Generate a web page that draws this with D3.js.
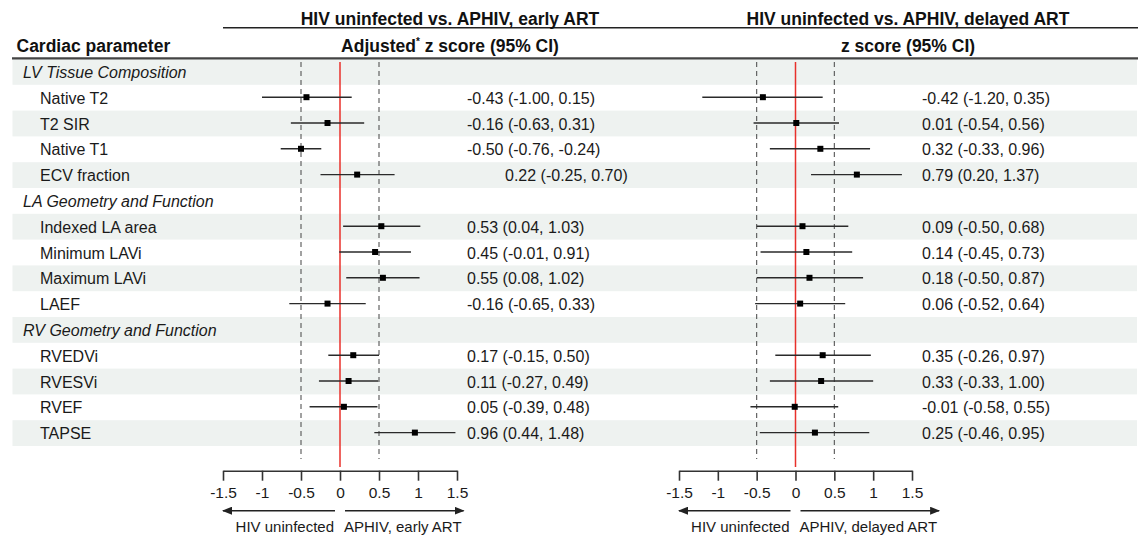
<!DOCTYPE html>
<html>
<head>
<meta charset="utf-8">
<script src="https://cdn.jsdelivr.net/npm/d3@7"></script>
<style>
  body { margin: 0; background: #fff; }
  svg { font-family: "Liberation Sans", Arial, sans-serif; }
</style>
</head>
<body>
<div id="chart"></div>
<script>
const width = 1146
const height = 537

// rows of the table, group headings have no estimate
const params = ["LV Tissue Composition", "Native T2", "T2 SIR", "Native T1", "ECV fraction",
  "LA Geometry and Function", "Indexed LA area", "Minimum LAVi", "Maximum LAVi", "LAEF",
  "RV Geometry and Function", "RVEDVi", "RVESVi", "RVEF", "TAPSE"]
const isGroup = [true, false, false, false, false, true, false, false, false, false, true, false, false, false, false]

// HIV uninfected vs APHIV, early ART (adjusted z score)
const earlyEst = [null, -0.43, -0.16, -0.50, 0.22, null, 0.53, 0.45, 0.55, -0.16, null, 0.17, 0.11, 0.05, 0.96]
const earlyLo  = [null, -1.00, -0.63, -0.76, -0.25, null, 0.04, -0.01, 0.08, -0.65, null, -0.15, -0.27, -0.39, 0.44]
const earlyHi  = [null, 0.15, 0.31, -0.24, 0.70, null, 1.03, 0.91, 1.02, 0.33, null, 0.50, 0.49, 0.48, 1.48]

// HIV uninfected vs APHIV, delayed ART (z score)
const delayedEst = [null, -0.42, 0.01, 0.32, 0.79, null, 0.09, 0.14, 0.18, 0.06, null, 0.35, 0.33, -0.01, 0.25]
const delayedLo  = [null, -1.20, -0.54, -0.33, 0.20, null, -0.50, -0.45, -0.50, -0.52, null, -0.26, -0.33, -0.58, -0.46]
const delayedHi  = [null, 0.35, 0.56, 0.96, 1.37, null, 0.68, 0.73, 0.87, 0.64, null, 0.97, 1.00, 0.55, 0.95]

const tickValues = [-1.5, -1, -0.5, 0, 0.5, 1, 1.5]

const svg = d3.select("#chart").append("svg")
    .attr("width", width)
    .attr("height", height)

const defs = svg.append("defs")
defs.append("marker")
    .attr("id", "arrow")
    .attr("viewBox", "0 0 10 8")
    .attr("refX", 9)
    .attr("refY", 4)
    .attr("markerUnits", "userSpaceOnUse")
    .attr("markerWidth", 10)
    .attr("markerHeight", 8)
    .attr("orient", "auto")
  .append("path")
    .attr("d", "M0,0 L10,4 L0,8 z")
    .attr("fill", "#222")

const y = d3.scaleBand().domain(d3.range(params.length)).range([59, 446])
const mid = i => y(i) + y.bandwidth() / 2
const fmt = v => v.toFixed(2)

// row shading
svg.append("g").selectAll("rect")
  .data(params.map((p, i) => i).filter(i => i % 2 === 0))
  .join("rect")
    .attr("x", 12.5)
    .attr("width", 1137 - 12.5)
    .attr("y", i => y(i))
    .attr("height", y.bandwidth())
    .attr("fill", "#eef2f0")

// header
svg.append("line").attr("x1", 223).attr("x2", 1138).attr("y1", 27.7).attr("y2", 27.7)
    .attr("stroke", "#222").attr("stroke-width", 1.6)
svg.append("line").attr("x1", 12).attr("x2", 1138).attr("y1", 58.3).attr("y2", 58.3)
    .attr("stroke", "#444").attr("stroke-width", 2.2)

svg.append("text")
    .attr("x", 16.5).attr("y", 52)
    .attr("font-size", 17.5).attr("font-weight", "bold").attr("fill", "#111")
    .text("Cardiac parameter")

// parameter labels
svg.append("g").selectAll("text")
  .data(params)
  .join("text")
    .attr("x", (d, i) => isGroup[i] ? 23 : 40)
    .attr("y", (d, i) => mid(i) + 6)
    .attr("font-size", 16)
    .attr("font-style", (d, i) => isGroup[i] ? "italic" : "normal")
    .attr("fill", "#1a1a1a")
    .text(d => d)

const panels = [
  { x: d3.scaleLinear().domain([-1.5, 1.5]).range([223, 457]),
    est: earlyEst, lo: earlyLo, hi: earlyHi, textX: 467, center: 450,
    title: "HIV uninfected vs. APHIV, early ART", sub: ["Adjusted", "*", " z score (95% CI)"],
    right: "APHIV, early ART" },
  { x: d3.scaleLinear().domain([-1.5, 1.5]).range([679, 912]),
    est: delayedEst, lo: delayedLo, hi: delayedHi, textX: 922, center: 908,
    title: "HIV uninfected vs. APHIV, delayed ART", sub: ["z score (95% CI)"],
    right: "APHIV, delayed ART" }
]

panels.forEach((p, pi) => {
  const g = svg.append("g")
  const x = p.x

  g.append("text")
      .attr("x", p.center).attr("y", 25)
      .attr("text-anchor", "middle")
      .attr("font-size", 17.5).attr("font-weight", "bold").attr("fill", "#111")
      .text(p.title)

  const sub = g.append("text")
      .attr("x", p.center).attr("y", 52)
      .attr("text-anchor", "middle")
      .attr("font-size", 17.5).attr("font-weight", "bold").attr("fill", "#111")
  p.sub.forEach(s => {
    const t = sub.append("tspan").text(s)
    if (s === "*") t.attr("font-size", 10).attr("dy", -7)
    else if (sub.selectAll("tspan").size() > 1) t.attr("dy", 7)
  })

  // reference lines
  g.selectAll("line.ref")
    .data([-0.5, 0.5])
    .join("line")
      .attr("class", "ref")
      .attr("x1", d => x(d)).attr("x2", d => x(d))
      .attr("y1", 62).attr("y2", 459)
      .attr("stroke", "#555").attr("stroke-width", 1.1)
      .attr("stroke-dasharray", "5,4")
  g.append("line")
      .attr("x1", x(0)).attr("x2", x(0))
      .attr("y1", 62).attr("y2", 467)
      .attr("stroke", "#e8302b").attr("stroke-width", 1.5)

  const rows = d3.range(params.length).filter(i => p.est[i] !== null)

  // confidence intervals
  g.selectAll("line.ci")
    .data(rows)
    .join("line")
      .attr("class", "ci")
      .attr("x1", i => x(p.lo[i])).attr("x2", i => x(p.hi[i]))
      .attr("y1", i => mid(i) - 0.5).attr("y2", i => mid(i) - 0.5)
      .attr("stroke", "#2a2a2a").attr("stroke-width", 1.4)

  g.selectAll("rect.box")
    .data(rows)
    .join("rect")
      .attr("class", "box")
      .attr("x", i => x(p.est[i]) - 3).attr("y", i => mid(i) - 3.5)
      .attr("width", 6).attr("height", 6)
      .attr("fill", "#000")

  // estimate (95% CI) text
  g.selectAll("text.val")
    .data(rows)
    .join("text")
      .attr("class", "val")
      .attr("x", i => p.textX + (pi === 0 && params[i] === "ECV fraction" ? 38 : 0))
      .attr("y", i => mid(i) + 6)
      .attr("font-size", 16).attr("fill", "#1a1a1a")
      .text(i => `${fmt(p.est[i])} (${fmt(p.lo[i])}, ${fmt(p.hi[i])})`)

  // axis
  const axis = g.append("g")
      .attr("transform", "translate(0,470.7)")
      .call(d3.axisBottom(x).tickValues(tickValues).tickFormat(d => String(d))
        .tickSize(10).tickSizeOuter(0).tickPadding(6))
  axis.select(".domain").attr("stroke", "#333").attr("stroke-width", 1.6)
  axis.selectAll(".tick line").attr("stroke", "#333").attr("stroke-width", 1.6)
  axis.selectAll(".tick text")
      .attr("font-size", 15.5).attr("fill", "#1a1a1a")
      .attr("font-family", "\"Liberation Sans\", Arial, sans-serif")

  // direction arrows
  g.append("text")
      .attr("x", x(0) - 6).attr("y", 531.7)
      .attr("text-anchor", "end")
      .attr("font-size", 15).attr("fill", "#1a1a1a")
      .text("HIV uninfected")
  const rt = g.append("text")
      .attr("x", x(0) + 4).attr("y", 531.7)
      .attr("font-size", 15).attr("fill", "#1a1a1a")
      .text(p.right)
  const rEnd = x(0) + 4 + rt.node().getComputedTextLength() + 2

  g.append("line")
      .attr("x1", x(0) - 5).attr("x2", x(-1.5))
      .attr("y1", 510.7).attr("y2", 510.7)
      .attr("stroke", "#222").attr("stroke-width", 1.5)
      .attr("marker-end", "url(#arrow)")
  g.append("line")
      .attr("x1", x(0) + 5).attr("x2", rEnd)
      .attr("y1", 510.7).attr("y2", 510.7)
      .attr("stroke", "#222").attr("stroke-width", 1.5)
      .attr("marker-end", "url(#arrow)")
})
</script>
</body>
</html>
